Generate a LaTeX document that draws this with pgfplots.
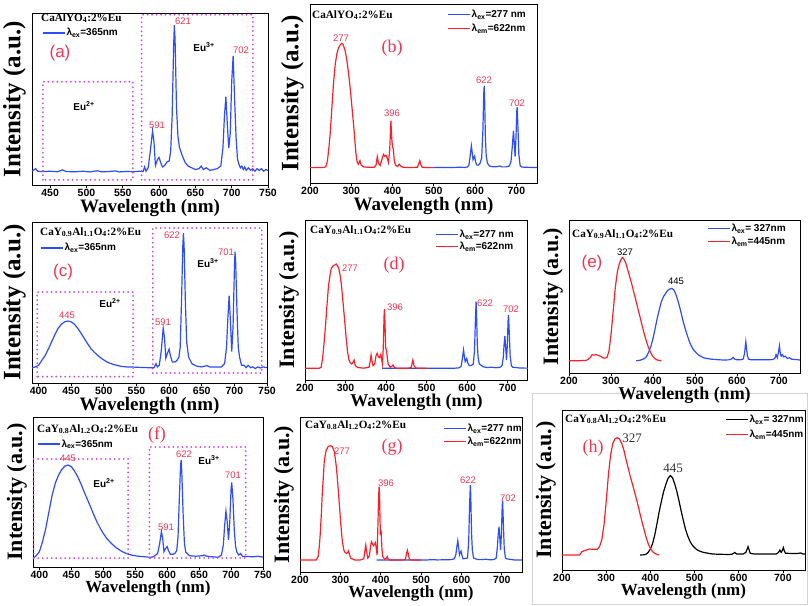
\documentclass[border=0pt]{standalone}
\usepackage{pgfplots}
\pgfplotsset{compat=1.18}
\usepackage{fontspec}
\setmainfont{Liberation Serif}
\setsansfont{Liberation Sans}
\definecolor{lblue}{RGB}{45,75,255}
\definecolor{lred}{RGB}{255,30,40}
\definecolor{pk}{RGB}{245,50,80}
\definecolor{dotc}{RGB}{205,70,225}
\newcommand{\fs}[1]{\fontsize{#1}{#1}\selectfont}
\tikzset{euBox/.style={dotc, dash pattern=on 0pt off 4.5pt, line cap=round, line width=2pt}}
\pgfplotsset{
  panel/.style={
    scale only axis, anchor=south west, ymin=0, ymax=1, ytick=\empty,
    xtick pos=bottom, tick align=outside, major tick length=3pt,
    axis line style={line width=1pt},
    every tick/.style={black, line width=0.8pt},
    clip=false,
    xlabel={Wavelength (nm)}, ylabel={Intensity (a.u.)},
    ylabel style={inner sep=0pt},
    xlabel style={inner sep=0pt},
    ylabel shift=3pt, xlabel shift=1pt,
    xticklabel style={font=\sffamily\bfseries\fs{10.5}, inner sep=1pt},
    /pgf/number format/assume math mode=true,
    /pgf/number format/set thousands separator={},
    legend style={draw=none, fill=none, inner sep=0pt, font=\sffamily\bfseries\fs{10}, row sep=3pt, nodes={inner sep=1pt}},
    legend cell align=left,
    legend image code/.code={\draw[##1, line width=1.4pt] (0pt,0pt) -- (22pt,0pt);},
    every axis plot/.append style={line width=1.2pt, no markers},
  },
  big/.style={ylabel style={font=\bfseries\fs{25}}, xlabel style={font=\bfseries\fs{19}}},
  mid/.style={ylabel style={font=\bfseries\fs{22}}, xlabel style={font=\bfseries\fs{18}}},
  sml/.style={ylabel style={font=\bfseries\fs{22}}, xlabel style={font=\bfseries\fs{17}}},
  wideA/.style={xtick={450,500,...,750}},
  wideC/.style={xtick={400,450,...,750}},
  full/.style={xmin=200, xmax=750, xtick={200,300,...,700}},
}
\begin{document}
\begin{tikzpicture}
\useasboundingbox (0pt,0pt) rectangle (808pt,-605pt);
\draw[gray!35, line width=0.6pt] (532pt,-393pt) rectangle (807pt,-604pt);

% (a)
\begin{axis}[panel, big, wideA, at={(32pt,-185pt)}, width=236pt, height=172pt, xmin=425, xmax=750,
  legend style={at={(0.042,0.884)}, anchor=west}]
\addplot[lblue] coordinates {(425,0.08)(430,0.095)(433,0.08)(440,0.078)(450,0.08)(460,0.077)(467,0.088)(472,0.078)(485,0.077)(495,0.08)(505,0.076)(515,0.083)(520,0.077)(530,0.078)(540,0.082)(545,0.076)(555,0.079)(565,0.077)(572,0.08)(578,0.078)(580,0.105)(582,0.08)(585,0.1)(588,0.2)(591,0.314)(593,0.25)(595,0.112)(598,0.15)(600,0.16)(603,0.12)(605,0.105)(608,0.115)(611,0.135)(614,0.14)(616,0.2)(618,0.4)(620,0.8)(621,0.93)(622,0.85)(624,0.45)(626,0.28)(628,0.22)(632,0.17)(636,0.13)(640,0.11)(645,0.1)(650,0.09)(655,0.095)(658,0.11)(661,0.09)(665,0.1)(670,0.085)(675,0.09)(680,0.095)(685,0.11)(688,0.22)(690,0.4)(692,0.513)(694,0.35)(696,0.214)(698,0.3)(700,0.6)(702,0.75)(704,0.5)(706,0.28)(708,0.15)(710,0.12)(712,0.1)(714,0.11)(716,0.09)(718,0.105)(720,0.085)(723,0.1)(726,0.085)(729,0.095)(732,0.08)(735,0.095)(738,0.085)(741,0.095)(744,0.08)(747,0.09)(750,0.085)};
\addlegendentry{λ\textsubscript{ex}=365nm}
\draw[euBox] (axis cs:440,0.03) rectangle (axis cs:564,0.6);
\draw[euBox] (axis cs:576,0.03) rectangle (axis cs:729,0.99);
\end{axis}

% (b)
\begin{axis}[panel, big, full, at={(310pt,-183pt)}, width=227pt, height=179pt,
  legend style={at={(0.604,0.972)}, anchor=north west}]
\addplot[lblue] coordinates {(500,0.086)(520,0.087)(540,0.086)(560,0.088)(575,0.087)(582,0.09)(585,0.1)(588,0.15)(591,0.208)(593,0.17)(595,0.13)(597,0.14)(599,0.15)(601,0.12)(604,0.1)(608,0.1)(612,0.11)(616,0.14)(619,0.3)(621,0.5)(622,0.542)(623,0.48)(625,0.25)(627,0.15)(630,0.11)(635,0.095)(645,0.09)(655,0.092)(660,0.095)(665,0.09)(675,0.09)(683,0.095)(687,0.12)(690,0.2)(693,0.292)(695,0.22)(697,0.147)(699,0.25)(701,0.4)(702,0.423)(704,0.3)(706,0.16)(709,0.1)(712,0.09)(720,0.088)(735,0.087)(750,0.086)};
\addlegendentry{λ\textsubscript{ex}=277 nm}
\addplot[lred] coordinates {(200,0.086)(230,0.086)(238,0.09)(242,0.12)(246,0.2)(249,0.28)(253,0.42)(257,0.56)(261,0.66)(265,0.72)(269,0.755)(273,0.77)(277,0.78)(280,0.775)(285,0.74)(289,0.69)(293,0.62)(297,0.54)(301,0.44)(305,0.34)(308,0.26)(311,0.17)(314,0.12)(317,0.105)(321,0.125)(324,0.1)(330,0.09)(340,0.088)(355,0.088)(360,0.1)(363,0.147)(366,0.11)(370,0.098)(374,0.13)(378,0.16)(381,0.15)(384,0.155)(387,0.14)(390,0.115)(393,0.18)(396,0.348)(398,0.25)(400,0.2)(402,0.19)(404,0.13)(407,0.1)(412,0.092)(416,0.105)(420,0.095)(425,0.088)(440,0.086)(460,0.088)(463,0.105)(466,0.125)(469,0.1)(472,0.088)(485,0.086)(500,0.086)};
\addlegendentry{λ\textsubscript{em}=622nm}
\end{axis}

% (c)
\begin{axis}[panel, big, wideC, at={(32pt,-383pt)}, width=235pt, height=161pt, xmin=390, xmax=750,
  legend style={at={(0.034,0.839)}, anchor=west}]
\addplot[lblue] coordinates {(390,0.093)(395,0.1)(400,0.11)(405,0.14)(410,0.17)(415,0.21)(420,0.255)(425,0.3)(430,0.34)(435,0.365)(440,0.38)(445,0.385)(450,0.38)(455,0.365)(460,0.34)(465,0.31)(470,0.277)(475,0.245)(480,0.215)(485,0.193)(490,0.174)(495,0.157)(500,0.143)(505,0.13)(510,0.122)(515,0.115)(520,0.11)(525,0.105)(530,0.102)(535,0.1)(540,0.1)(550,0.098)(560,0.096)(570,0.095)(577,0.095)(580,0.12)(582,0.1)(585,0.11)(588,0.2)(591,0.34)(593,0.28)(595,0.154)(597,0.18)(600,0.21)(602,0.17)(605,0.13)(609,0.13)(612,0.14)(615,0.16)(617,0.22)(619,0.5)(621,0.85)(622,0.93)(623,0.85)(625,0.5)(627,0.25)(630,0.16)(635,0.12)(642,0.105)(650,0.1)(658,0.108)(662,0.1)(670,0.1)(680,0.1)(685,0.12)(688,0.22)(690,0.4)(692,0.542)(694,0.38)(696,0.195)(698,0.35)(700,0.7)(701,0.816)(702,0.75)(704,0.45)(706,0.22)(708,0.16)(711,0.11)(715,0.11)(718,0.095)(721,0.11)(725,0.095)(728,0.1)(732,0.09)(736,0.1)(740,0.093)(744,0.1)(750,0.095)};
\addlegendentry{λ\textsubscript{ex}=365nm}
\draw[euBox] (axis cs:398,0.04) rectangle (axis cs:545,0.565);
\draw[euBox] (axis cs:575,0.062) rectangle (axis cs:742,0.963);
\end{axis}

% (d)
\begin{axis}[panel, mid, full, at={(305pt,-380pt)}, width=223pt, height=160pt,
  legend style={at={(0.583,0.944)}, anchor=north west, row sep=1pt}]
\addplot[lblue] coordinates {(390,0.073)(420,0.074)(450,0.073)(480,0.074)(510,0.073)(540,0.074)(570,0.074)(580,0.076)(585,0.085)(588,0.13)(591,0.1875)(593,0.15)(595,0.115)(597,0.125)(599,0.135)(601,0.11)(605,0.09)(610,0.09)(615,0.1)(618,0.18)(620,0.35)(622,0.49)(623,0.42)(625,0.22)(627,0.14)(630,0.1)(640,0.082)(650,0.078)(660,0.08)(670,0.077)(680,0.078)(686,0.09)(689,0.14)(691,0.22)(693,0.275)(695,0.2)(697,0.125)(699,0.22)(701,0.38)(702,0.406)(704,0.28)(706,0.15)(709,0.09)(712,0.08)(730,0.075)(750,0.074)};
\addlegendentry{λ\textsubscript{ex}=277 nm}
\addplot[lred] coordinates {(200,0.073)(235,0.073)(240,0.08)(244,0.15)(247,0.23)(250,0.32)(254,0.46)(258,0.59)(262,0.66)(265,0.7)(270,0.715)(274,0.72)(277,0.725)(280,0.715)(283,0.7)(287,0.65)(290,0.59)(294,0.48)(298,0.365)(302,0.25)(305,0.177)(308,0.13)(311,0.11)(315,0.1)(318,0.11)(321,0.125)(324,0.09)(330,0.078)(345,0.074)(358,0.08)(361,0.12)(363,0.156)(365,0.12)(368,0.09)(372,0.1)(375,0.15)(378,0.167)(381,0.145)(384,0.14)(387,0.16)(389,0.13)(391,0.1)(393,0.2)(395,0.4)(396,0.444)(397,0.38)(399,0.2)(401,0.187)(403,0.14)(405,0.1)(410,0.08)(414,0.085)(417,0.094)(420,0.08)(425,0.074)(455,0.073)(462,0.08)(466,0.125)(469,0.09)(473,0.075)(490,0.073)(500,0.073)};
\addlegendentry{λ\textsubscript{em}=622nm}
\end{axis}

% (e)
\begin{axis}[panel, mid, full, at={(569pt,-373pt)}, width=231pt, height=153pt,
  legend style={at={(0.597,0.98)}, anchor=north west, row sep=2pt}]
\addplot[lblue] coordinates {(360,0.08)(370,0.084)(380,0.095)(385,0.11)(390,0.138)(395,0.175)(400,0.226)(405,0.29)(410,0.357)(415,0.415)(420,0.466)(425,0.5)(430,0.52)(435,0.54)(440,0.549)(445,0.553)(450,0.542)(455,0.51)(460,0.466)(465,0.415)(470,0.357)(475,0.305)(480,0.259)(485,0.218)(490,0.183)(495,0.158)(500,0.14)(505,0.126)(510,0.115)(520,0.1)(530,0.094)(540,0.09)(550,0.088)(560,0.086)(570,0.085)(580,0.086)(586,0.09)(591,0.102)(595,0.09)(600,0.086)(610,0.087)(615,0.092)(618,0.13)(621,0.205)(623,0.15)(625,0.11)(628,0.09)(635,0.086)(650,0.087)(670,0.086)(685,0.088)(690,0.095)(693,0.12)(696,0.1)(699,0.14)(701,0.178)(703,0.13)(705,0.11)(708,0.12)(711,0.105)(715,0.11)(720,0.095)(725,0.1)(730,0.09)(740,0.088)(750,0.085)};
\addlegendentry{λ\textsubscript{ex}= 327nm}
\addplot[lred] coordinates {(200,0.08)(220,0.08)(240,0.082)(245,0.088)(250,0.1)(255,0.12)(260,0.117)(265,0.12)(270,0.115)(275,0.11)(280,0.1)(285,0.097)(290,0.1)(295,0.14)(300,0.25)(305,0.4)(310,0.553)(315,0.66)(320,0.716)(325,0.749)(327,0.755)(330,0.748)(335,0.72)(340,0.673)(345,0.625)(350,0.575)(355,0.52)(360,0.466)(365,0.41)(370,0.357)(375,0.3)(380,0.248)(385,0.2)(390,0.161)(395,0.13)(400,0.107)(405,0.093)(410,0.085)(420,0.08)};
\addlegendentry{λ\textsubscript{em}=445nm}
\end{axis}

% (f)
\begin{axis}[panel, sml, wideC, at={(33pt,-567pt)}, width=230pt, height=150pt, xmin=390, xmax=750,
  legend style={at={(0.017,0.82)}, anchor=west}]
\addplot[lblue] coordinates {(390,0.058)(395,0.075)(400,0.102)(405,0.17)(410,0.258)(415,0.37)(420,0.48)(425,0.56)(430,0.613)(435,0.65)(440,0.673)(445,0.68)(450,0.669)(455,0.64)(460,0.602)(465,0.555)(470,0.502)(475,0.452)(480,0.402)(485,0.35)(490,0.302)(495,0.26)(500,0.224)(505,0.193)(510,0.169)(515,0.148)(520,0.129)(525,0.115)(530,0.102)(535,0.092)(540,0.084)(545,0.079)(550,0.075)(555,0.072)(560,0.07)(565,0.068)(570,0.066)(575,0.065)(579,0.07)(582,0.08)(585,0.09)(588,0.15)(591,0.236)(593,0.19)(595,0.102)(597,0.12)(600,0.136)(602,0.11)(605,0.085)(609,0.085)(612,0.09)(615,0.11)(617,0.2)(619,0.45)(621,0.68)(622,0.713)(623,0.62)(625,0.35)(627,0.16)(629,0.1)(635,0.075)(645,0.072)(655,0.075)(658,0.08)(662,0.072)(670,0.068)(680,0.065)(685,0.08)(688,0.15)(690,0.28)(692,0.373)(694,0.3)(696,0.18)(698,0.3)(700,0.52)(701,0.564)(703,0.45)(705,0.25)(707,0.14)(709,0.1)(712,0.08)(715,0.09)(718,0.07)(725,0.07)(735,0.068)(742,0.072)(750,0.066)};
\addlegendentry{λ\textsubscript{ex}=365nm}
\draw[euBox] (axis cs:391,0.06) rectangle (axis cs:539,0.72);
\draw[euBox] (axis cs:572,0.06) rectangle (axis cs:723,0.8);
\end{axis}

% (g)
\begin{axis}[panel, sml, full, at={(300pt,-572pt)}, width=222pt, height=155pt,
  legend style={at={(0.644,0.961)}, anchor=north west, row sep=2pt}]
\addplot[lblue] coordinates {(390,0.077)(420,0.078)(450,0.077)(480,0.078)(510,0.077)(530,0.08)(540,0.078)(560,0.079)(575,0.08)(582,0.085)(586,0.11)(589,0.17)(591,0.202)(593,0.16)(595,0.11)(597,0.125)(599,0.135)(601,0.11)(604,0.085)(610,0.088)(615,0.09)(618,0.2)(620,0.42)(622,0.561)(623,0.5)(625,0.25)(627,0.14)(630,0.09)(640,0.08)(650,0.08)(660,0.082)(670,0.079)(680,0.08)(686,0.09)(689,0.16)(691,0.24)(693,0.292)(695,0.22)(697,0.142)(699,0.25)(701,0.43)(702,0.458)(704,0.3)(706,0.15)(709,0.09)(712,0.085)(730,0.078)(750,0.077)};
\addlegendentry{λ\textsubscript{ex}=277 nm}
\addplot[lred] coordinates {(200,0.077)(240,0.077)(245,0.1)(248,0.17)(250,0.24)(253,0.38)(255,0.497)(258,0.62)(260,0.71)(263,0.76)(265,0.787)(270,0.81)(275,0.815)(280,0.81)(285,0.776)(288,0.72)(290,0.68)(293,0.59)(295,0.52)(298,0.42)(300,0.346)(303,0.25)(305,0.196)(308,0.15)(310,0.131)(315,0.12)(318,0.125)(320,0.136)(323,0.11)(326,0.088)(335,0.078)(350,0.078)(358,0.085)(361,0.14)(363,0.174)(365,0.13)(368,0.09)(372,0.105)(375,0.17)(377,0.196)(380,0.18)(382,0.17)(385,0.18)(387,0.19)(389,0.15)(391,0.11)(393,0.3)(395,0.5)(396,0.55)(397,0.5)(399,0.25)(401,0.26)(403,0.15)(405,0.1)(410,0.082)(414,0.09)(416,0.1)(419,0.08)(425,0.077)(455,0.077)(461,0.08)(464,0.12)(466,0.14)(468,0.12)(471,0.08)(480,0.077)(500,0.077)};
\addlegendentry{λ\textsubscript{em}=622nm}
\end{axis}

% (h)
\begin{axis}[panel, sml, full, at={(562pt,-570pt)}, width=243pt, height=160pt,
  legend style={at={(0.671,0.975)}, anchor=north west, row sep=4pt}]
\addplot[black] coordinates {(377,0.094)(385,0.095)(390,0.098)(395,0.11)(400,0.131)(405,0.165)(410,0.219)(415,0.29)(420,0.365)(425,0.43)(430,0.49)(435,0.535)(440,0.573)(445,0.59)(450,0.577)(455,0.54)(460,0.49)(465,0.43)(470,0.365)(475,0.305)(480,0.25)(485,0.21)(490,0.177)(495,0.155)(500,0.14)(505,0.128)(510,0.12)(520,0.11)(530,0.105)(540,0.1)(560,0.098)(580,0.097)(586,0.1)(591,0.11)(595,0.1)(610,0.1)(616,0.11)(619,0.13)(621,0.146)(623,0.13)(626,0.105)(635,0.1)(660,0.1)(685,0.1)(690,0.11)(693,0.125)(696,0.11)(699,0.125)(701,0.14)(703,0.12)(706,0.105)(720,0.103)(735,0.104)(740,0.107)(745,0.1)(750,0.1)};
\addlegendentry{λ\textsubscript{ex}= 327nm}
\addplot[lred] coordinates {(200,0.094)(240,0.094)(245,0.115)(250,0.12)(255,0.125)(262,0.131)(270,0.13)(280,0.13)(285,0.146)(290,0.188)(295,0.281)(300,0.427)(305,0.594)(310,0.719)(315,0.792)(320,0.819)(325,0.827)(330,0.819)(335,0.792)(340,0.75)(345,0.69)(350,0.635)(355,0.58)(360,0.531)(365,0.48)(370,0.427)(375,0.37)(380,0.313)(385,0.26)(390,0.208)(395,0.165)(400,0.135)(405,0.115)(410,0.104)(415,0.097)(420,0.094)};
\addlegendentry{λ\textsubscript{em}=445nm}
\end{axis}

% ---- annotations ----
\tikzset{pl/.style={font=\sffamily\fs{9.5}, text=pk, inner sep=0pt},
         eu/.style={font=\sffamily\bfseries\fs{10}, inner sep=0pt},
         cmp/.style={font=\bfseries\fs{11.2}, anchor=west, inner sep=0pt},
         tagS/.style={font=\sffamily\fs{17}, text=pk, inner sep=0pt},
         tagR/.style={font=\fs{18}, text=pk, inner sep=0pt}}
% (a)
\node[cmp] at (41pt,-18pt) {CaAlYO\textsubscript{4}:2\%Eu};
\node[pl] at (157pt,-125pt) {591};
\node[pl] at (183pt,-21pt) {621};
\node[pl] at (241pt,-50pt) {702};
\node[eu] at (204pt,-47pt) {Eu\textsuperscript{3+}};
\node[eu] at (84pt,-106pt) {Eu\textsuperscript{2+}};
\node[tagS] at (60pt,-53pt) {(a)};
% (b)
\node[cmp] at (312pt,-15pt) {CaAlYO\textsubscript{4}:2\%Eu};
\node[pl] at (341pt,-38pt) {277};
\node[pl] at (392pt,-113pt) {396};
\node[pl] at (484pt,-80pt) {622};
\node[pl] at (517pt,-103pt) {702};
\node[tagR] at (392pt,-48pt) {(b)};
% (c)
\node[cmp] at (40pt,-232pt) {CaY\textsubscript{0.9}Al\textsubscript{1.1}O\textsubscript{4}:2\%Eu};
\node[pl] at (67pt,-315pt) {445};
\node[pl] at (163pt,-322pt) {591};
\node[pl] at (172pt,-235pt) {622};
\node[pl] at (226pt,-252pt) {701};
\node[eu] at (208pt,-263pt) {Eu\textsuperscript{3+}};
\node[eu] at (110pt,-303pt) {Eu\textsuperscript{2+}};
\node[tagS] at (63pt,-272pt) {(c)};
% (d)
\node[cmp] at (310pt,-230pt) {CaY\textsubscript{0.9}Al\textsubscript{1.1}O\textsubscript{4}:2\%Eu};
\node[pl] at (350pt,-268pt) {277};
\node[pl] at (395pt,-307pt) {396};
\node[pl] at (485pt,-303pt) {622};
\node[pl] at (511pt,-309pt) {702};
\node[tagR] at (394pt,-265pt) {(d)};
% (e)
\node[cmp] at (572pt,-234pt) {CaY\textsubscript{0.9}Al\textsubscript{1.1}O\textsubscript{4}:2\%Eu};
\node[font=\sffamily\fs{9.5}, inner sep=0pt] at (625pt,-252pt) {327};
\node[font=\sffamily\fs{9.5}, inner sep=0pt] at (676pt,-281pt) {445};
\node[tagS] at (592pt,-263pt) {(e)};
% (f)
\node[cmp] at (37pt,-429pt) {CaY\textsubscript{0.8}Al\textsubscript{1.2}O\textsubscript{4}:2\%Eu};
\node[pl] at (68pt,-458pt) {445};
\node[pl] at (166pt,-527pt) {591};
\node[pl] at (184pt,-454pt) {622};
\node[pl] at (233pt,-475pt) {701};
\node[eu] at (104pt,-483pt) {Eu\textsuperscript{2+}};
\node[eu] at (209pt,-460pt) {Eu\textsuperscript{3+}};
\node[tagR] at (157pt,-435pt) {(f)};
% (g)
\node[cmp] at (305pt,-425pt) {CaY\textsubscript{0.8}Al\textsubscript{1.2}O\textsubscript{4}:2\%Eu};
\node[pl] at (342pt,-451pt) {277};
\node[pl] at (386pt,-483pt) {396};
\node[pl] at (468pt,-480pt) {622};
\node[pl] at (508pt,-498pt) {702};
\node[tagR] at (392pt,-447pt) {(g)};
% (h)
\node[cmp] at (565pt,-419pt) {CaY\textsubscript{0.8}Al\textsubscript{1.2}O\textsubscript{4}:2\%Eu};
\node[font=\fs{13}, text=black!80, inner sep=0pt] at (632pt,-438pt) {327};
\node[font=\fs{13}, text=black!80, inner sep=0pt] at (673pt,-468pt) {445};
\node[tagR] at (593pt,-448pt) {(h)};
\end{tikzpicture}
\end{document}
